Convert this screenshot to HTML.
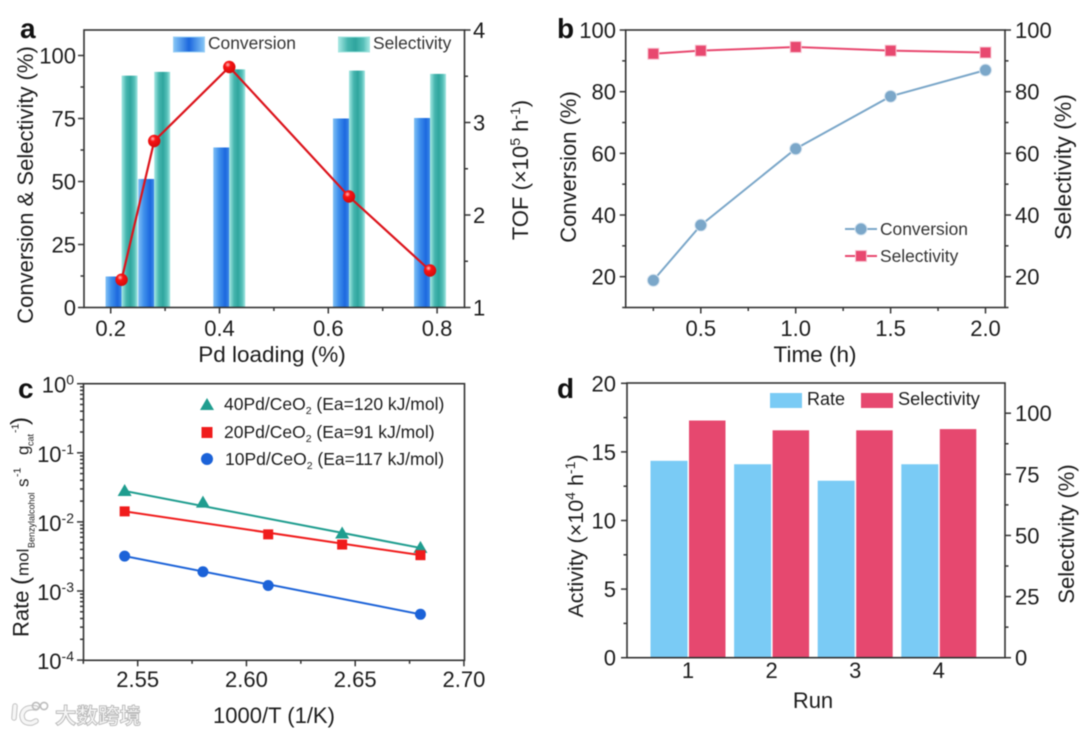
<!DOCTYPE html>
<html lang="en">
<head>
<meta charset="utf-8">
<title>Catalyst performance, four-panel figure</title>
<style>
html,body{margin:0;padding:0;background:#fff;width:1080px;height:735px;overflow:hidden}
svg{display:block;filter:blur(.45px)}
text{font-family:"Liberation Sans","Noto Sans CJK SC",sans-serif;fill:#1c1c1c}
.t{font-size:22px}
.l{font-size:17.4px;fill:#333}
.p{font-size:28px;font-weight:bold;fill:#111}
</style>
</head>
<body>
<svg id="fig" xmlns="http://www.w3.org/2000/svg" width="1080" height="735" viewBox="0 0 1080 735">
<defs>
<linearGradient id="gc" x1="0" x2="1" y1="0" y2="0"><stop offset="0" stop-color="#80c0f5"/><stop offset=".35" stop-color="#3f90ec"/><stop offset=".75" stop-color="#1c68de"/><stop offset="1" stop-color="#3d8be8"/></linearGradient>
<linearGradient id="gs" x1="0" x2="1" y1="0" y2="0"><stop offset="0" stop-color="#a5e8e3"/><stop offset=".3" stop-color="#45b5ae"/><stop offset=".55" stop-color="#2fa59e"/><stop offset=".8" stop-color="#55bfb8"/><stop offset="1" stop-color="#a5e8e3"/></linearGradient>
<linearGradient id="glc" x1="0" x2="1" y1="0" y2="0"><stop offset="0" stop-color="#86c6f6"/><stop offset=".5" stop-color="#1c68de"/><stop offset="1" stop-color="#86c6f6"/></linearGradient>
<radialGradient id="ball" cx=".38" cy=".32" r=".75"><stop offset="0" stop-color="#ffc0c0"/><stop offset=".3" stop-color="#f81414"/><stop offset="1" stop-color="#d00a0a"/></radialGradient>
</defs>

<g id="panel-a">
<text class="p" x="20" y="38">a</text>
<g id="a-marks"></g>
<rect x="84" y="30" width="380.5" height="277.5" fill="none" stroke="#333" stroke-width="1.6"/>
<g id="a-axes"></g>
<text class="t" transform="translate(33,185) rotate(-90)" text-anchor="middle">Conversion &amp; Selectivity (%)</text>
<text class="t" transform="translate(528,170) rotate(-90)" text-anchor="middle">TOF (×10<tspan font-size="14" dy="-8">5</tspan><tspan dy="8"> h</tspan><tspan font-size="14" dy="-8">-1</tspan><tspan dy="8">)</tspan></text>
<text x="272" y="362" font-size="22.5" text-anchor="middle">Pd loading (%)</text>
<rect x="173.5" y="37" width="31" height="15" fill="url(#glc)" stroke="#9bd0f5"/>
<text class="l" x="208" y="49">Conversion</text>
<rect x="338.5" y="37" width="31" height="15" fill="url(#gs)" stroke="#a5e5e0"/>
<text class="l" x="373" y="49">Selectivity</text>
</g>

<g id="panel-b">
<text class="p" x="557" y="38">b</text>
<rect x="625.7" y="30" width="379.3" height="277.5" fill="none" stroke="#333" stroke-width="1.6"/>
<g id="b-axes"></g>
<g id="b-marks"></g>
<text class="t" transform="translate(576,167) rotate(-90)" text-anchor="middle">Conversion (%)</text>
<text x="0" y="0" font-size="23" transform="translate(1071,167) rotate(-90)" text-anchor="middle">Selectivity (%)</text>
<text x="815" y="362" font-size="22.5" text-anchor="middle">Time (h)</text>
<line x1="845" x2="877" y1="229" y2="229" stroke="#7ba7c9" stroke-width="2"/>
<circle cx="861" cy="229" r="6" fill="#7ba7c9" stroke="#cfe0ee"/>
<text class="l" x="880" y="235">Conversion</text>
<line x1="845" x2="877" y1="256" y2="256" stroke="#e8486f" stroke-width="2"/>
<rect x="855.5" y="250.5" width="11" height="11" fill="#e8486f" stroke="#f8c5d2"/>
<text class="l" x="880" y="262">Selectivity</text>
</g>

<g id="panel-c">
<text class="p" x="18" y="398">c</text>
<rect x="83.5" y="383.7" width="381" height="276.6" fill="none" stroke="#333" stroke-width="1.6"/>
<g id="c-axes"></g>
<g id="c-marks"></g>
<text transform="translate(28.5,637) rotate(-90)" font-size="22"><tspan x="0">Rate</tspan><tspan x="52" font-size="24">(</tspan><tspan x="61" font-size="17">mol</tspan><tspan x="89" y="6" font-size="9">Benzylalcohol</tspan><tspan x="150" y="0" font-size="17">s</tspan><tspan x="160" y="-8" font-size="10.5">-1</tspan><tspan x="182" y="0" font-size="17">g</tspan><tspan x="191" y="5" font-size="9">cat</tspan><tspan x="204" y="-10" font-size="10.5">-1</tspan><tspan x="212" y="-1" font-size="24">)</tspan></text>
<text class="t" x="274" y="723" text-anchor="middle">1000/T (1/K)</text>
<polygon points="200,410 214,410 207,398" fill="#1f9d8f"/>
<text x="224" y="410" font-size="17.5" fill="#333">40Pd/CeO<tspan font-size="10.5" dy="4">2</tspan><tspan dy="-4"> (Ea=120 kJ/mol)</tspan></text>
<rect x="201.5" y="427" width="11" height="11" fill="#f01c1c"/>
<text x="224" y="438" font-size="17.5" fill="#333">20Pd/CeO<tspan font-size="10.5" dy="4">2</tspan><tspan dy="-4"> (Ea=91 kJ/mol)</tspan></text>
<circle cx="207" cy="459" r="6" fill="#1b62d8"/>
<text x="225" y="465" font-size="17.5" fill="#333">10Pd/CeO<tspan font-size="10.5" dy="4">2</tspan><tspan dy="-4"> (Ea=117 kJ/mol)</tspan></text>
</g>

<g id="panel-d">
<text class="p" x="557" y="398">d</text>
<g id="d-marks"></g>
<rect x="627" y="383" width="378" height="274.7" fill="none" stroke="#333" stroke-width="1.6"/>
<g id="d-axes"></g>
<text x="0" y="0" font-size="21.5" transform="translate(583,536) rotate(-90)" text-anchor="middle">Activity (×10<tspan font-size="14" dy="-8">4</tspan><tspan dy="8"> h</tspan><tspan font-size="14" dy="-8">-1</tspan><tspan dy="8">)</tspan></text>
<text class="t" transform="translate(1074,534) rotate(-90)" text-anchor="middle">Selectivity (%)</text>
<text class="t" x="813" y="708" text-anchor="middle">Run</text>
<rect x="770" y="393" width="32" height="15" fill="#7acbf5"/>
<text x="807" y="405" font-size="18" fill="#333">Rate</text>
<rect x="861" y="393" width="32" height="15" fill="#e6486f"/>
<text x="898" y="405" font-size="18.2" fill="#333">Selectivity</text>
</g>

<g id="watermark">
<path d="M15 706 L14 718 M36 708 Q24 706 22 715 Q22 724 32 723 L36 721" fill="none" stroke="#c2c2c2" stroke-width="5.5" stroke-linecap="round"/>
<path d="M15 706 L14 718 M36 708 Q24 706 22 715 Q22 724 32 723 L36 721" fill="none" stroke="#f6f6f6" stroke-width="3.5" stroke-linecap="round"/>
<circle cx="36" cy="706" r="3.6" fill="none" stroke="#bdbdbd" stroke-width="1.6"/>
<circle cx="44" cy="706" r="3.6" fill="none" stroke="#bdbdbd" stroke-width="1.6"/>
<text x="55" y="723.5" font-size="21.5" font-weight="bold" style="fill:#f6f6f6;stroke:#b8b8b8;stroke-width:.9px">大数跨境</text>
</g>
</svg>

<script>
/* Panel a */
const aLoading = [0.22, 0.28, 0.418, 0.638, 0.787];
const aConversion = [12.3, 51, 63.5, 75, 75.2];
const aSelectivity = [92, 93.5, 94.5, 94, 92.7];
const aTof = [1.3, 2.8, 3.6, 2.2, 1.4];
const aXTicks = ['0.2', '0.4', '0.6', '0.8'];
const aXMinor = [0.3, 0.5, 0.7];
const aYTicks = [0, 25, 50, 75, 100];
const aYMinor = [12.5, 37.5, 62.5, 87.5];
const aRTicks = [1, 2, 3, 4];
const aRMinor = [1.5, 2.5, 3.5];

/* Panel b */
const bTime = [0.25, 0.5, 1.0, 1.5, 2.0];
const bConversion = [18.8, 36.7, 61.5, 78.5, 87];
const bSelectivity = [92.3, 93.3, 94.5, 93.3, 92.7];
const bXTicks = ['0.5', '1.0', '1.5', '2.0'];
const bXMinor = [0.25, 0.75, 1.25, 1.75];
const bYTicks = [20, 40, 60, 80, 100];
const bYMinor = [10, 30, 50, 70, 90];

/* Panel c */
const cT40 = [2.544, 2.58, 2.644, 2.68];
const cRate40 = [0.028, 0.019, 0.0068, 0.0042];
const cT20 = [2.544, 2.61, 2.644, 2.68];
const cRate20 = [0.0142, 0.0066, 0.0047, 0.0033];
const cT10 = [2.544, 2.58, 2.61, 2.68];
const cRate10 = [0.0032, 0.0019, 0.0012, 0.00046];
const cXTicks = ['2.55', '2.60', '2.65', '2.70'];
const cXMinor = [2.525, 2.575, 2.625, 2.675];
const cYExponents = [0, -1, -2, -3, -4];

/* Panel d */
const dRuns = ['1', '2', '3', '4'];
const dRate = [14.35, 14.1, 12.9, 14.1];
const dSelectivity = [97, 93, 93, 93.5];
const dYTicks = [0, 5, 10, 15, 20];
const dYMinor = [2.5, 7.5, 12.5, 17.5];
const dRTicks = [0, 25, 50, 75, 100];
const dRMinor = [12.5, 37.5, 62.5, 87.5];

const NS = 'http://www.w3.org/2000/svg';
function make(tag, attrs, parent) {
  const n = document.createElementNS(NS, tag);
  for (const k in attrs) n.setAttribute(k, attrs[k]);
  parent.appendChild(n);
  return n;
}
function tick(parent, x1, y1, x2, y2) {
  const el = make('line', {x1: x1, y1: y1, x2: x2, y2: y2, stroke: '#333', 'stroke-width': 1.5}, parent);
  
  
}
function label(parent, x, y, str, anchor) {
  const el = make('text', {x: x, y: y, 'text-anchor': anchor, class: 't'}, parent);
  el.textContent = str;
  
  
  return el;
}
function axisBottom(parent, scale, bottom, major, minor, labelY) {
  major.forEach(function (t) {
    tick(parent, scale(+t), bottom, scale(+t), bottom + 6);
    label(parent, scale(+t), labelY, t, 'middle');
  });
  minor.forEach(function (t) { tick(parent, scale(t), bottom, scale(t), bottom + 3.5); });
}
function axisLeft(parent, scale, left, major, minor, labelX) {
  major.forEach(function (t) {
    tick(parent, left, scale(t), left - 6, scale(t));
    label(parent, labelX, scale(t) + 8, String(t), 'end');
  });
  minor.forEach(function (t) { tick(parent, left, scale(t), left - 3.5, scale(t)); });
}
function axisRight(parent, scale, right, major, minor, labelX) {
  major.forEach(function (t) {
    tick(parent, right, scale(t), right + 6, scale(t));
    label(parent, labelX, scale(t) + 8, String(t), 'start');
  });
  minor.forEach(function (t) { tick(parent, right, scale(t), right + 3.5, scale(t)); });
}
function pointsOf(xs, ys, sx, sy) {
  return xs.map(function (v, i) { return sx(v) + ',' + sy(ys[i]); }).join(' ');
}

/* ---------- panel a ---------- */
const xA = function (v) { return 110.7 + (v - 0.2) * 544; };
const yA = function (v) { return 307.5 - 2.52 * v; };
const rA = function (v) { return 307.5 - 92.5 * (v - 1); };
const aMarks = document.getElementById('a-marks');
const aAxes = document.getElementById('a-axes');
aLoading.forEach(function (v, i) {
  const c = make('rect', {x: xA(v) - 16, y: yA(aConversion[i]), width: 16, height: 307.5 - yA(aConversion[i]), fill: 'url(#gc)'}, aMarks);
  
  
});
aLoading.forEach(function (v, i) {
  const s = make('rect', {x: xA(v), y: yA(aSelectivity[i]), width: 16, height: 307.5 - yA(aSelectivity[i]), fill: 'url(#gs)'}, aMarks);
  
  
});
const aLine = make('polyline', {points: pointsOf(aLoading, aTof, xA, rA), fill: 'none', stroke: '#dc141c', 'stroke-width': 2.2}, aMarks);


aLoading.forEach(function (v, i) {
  const p = make('circle', {cx: xA(v), cy: rA(aTof[i]), r: 6.2, fill: 'url(#ball)'}, aMarks);
  
  
});
axisBottom(aAxes, xA, 307.5, aXTicks, aXMinor, 336);
axisLeft(aAxes, yA, 84, aYTicks, aYMinor, 76);
axisRight(aAxes, rA, 464.5, aRTicks, aRMinor, 473);

/* ---------- panel b ---------- */
const xB = function (v) { return 605.9 + v * 189.8; };
const yB = function (v) { return 307.5 - (v - 10) * 3.083; };
const bMarks = document.getElementById('b-marks');
const bAxes = document.getElementById('b-axes');
const bLineC = make('polyline', {points: pointsOf(bTime, bConversion, xB, yB), fill: 'none', stroke: '#7ba7c9', 'stroke-width': 2}, bMarks);


const bLineS = make('polyline', {points: pointsOf(bTime, bSelectivity, xB, yB), fill: 'none', stroke: '#e8486f', 'stroke-width': 2}, bMarks);


bTime.forEach(function (v, i) {
  const p = make('circle', {cx: xB(v), cy: yB(bConversion[i]), r: 6, fill: '#7ba7c9', stroke: '#d5e3ef', 'stroke-width': 1}, bMarks);
  
  
  const q = make('rect', {x: xB(v) - 5.5, y: yB(bSelectivity[i]) - 5.5, width: 11, height: 11, fill: '#e8486f', stroke: '#f8c5d2', 'stroke-width': 1}, bMarks);
  
  
});
axisBottom(bAxes, xB, 307.5, bXTicks, bXMinor, 336);
axisLeft(bAxes, yB, 625.7, bYTicks, bYMinor, 616);
axisRight(bAxes, yB, 1005, bYTicks, bYMinor, 1015);

/* ---------- panel c ---------- */
const xC = function (v) { return 137.7 + (v - 2.55) * 2175; };
const yC = function (v) { return 383.7 - Math.log10(v) * 69.1; };
const cMarks = document.getElementById('c-marks');
const cAxes = document.getElementById('c-axes');
axisBottom(cAxes, xC, 660.3, cXTicks, cXMinor, 687);
cYExponents.forEach(function (e) {
  const y = yC(Math.pow(10, e));
  tick(cAxes, 83.5, y, 77, y);
  const t = label(cAxes, 74, y + 9, '10', 'end');
  const sup = make('tspan', {'font-size': 14, dy: -8}, t);
  sup.textContent = String(e);
  if (e > -4) {
    for (let m = 2; m <= 9; m++) {
      const my = yC(m * Math.pow(10, e - 1));
      tick(cAxes, 83.5, my, 80, my);
    }
  }
});
function fitLine(ts, rates, color, name) {
  const last = ts.length - 1;
  const el = make('line', {x1: xC(ts[0]), y1: yC(rates[0]), x2: xC(ts[last]), y2: yC(rates[last]), stroke: color, 'stroke-width': 2}, cMarks);
  
  
}
fitLine(cT40, cRate40, '#1f9d8f', 'fit-line-40pd');
fitLine(cT20, cRate20, '#f01c1c', 'fit-line-20pd');
fitLine(cT10, cRate10, '#1b62d8', 'fit-line-10pd');
cT40.forEach(function (v, i) {
  const x = xC(v), y = yC(cRate40[i]);
  const el = make('polygon', {points: (x - 7) + ',' + (y + 5) + ' ' + (x + 7) + ',' + (y + 5) + ' ' + x + ',' + (y - 7), fill: '#1f9d8f'}, cMarks);
  
  
});
cT20.forEach(function (v, i) {
  const el = make('rect', {x: xC(v) - 5, y: yC(cRate20[i]) - 5, width: 10, height: 10, fill: '#f01c1c'}, cMarks);
  
  
});
cT10.forEach(function (v, i) {
  const el = make('circle', {cx: xC(v), cy: yC(cRate10[i]), r: 5.5, fill: '#1b62d8'}, cMarks);
  
  
});

/* ---------- panel d ---------- */
const xD = function (i) { return 688 + i * 83.6; };
const yD = function (v) { return 657.7 - v * 13.72; };
const rD = function (v) { return 657.7 - v * 2.445; };
const dMarks = document.getElementById('d-marks');
const dAxes = document.getElementById('d-axes');
dRuns.forEach(function (run, i) {
  const a = make('rect', {x: xD(i) - 37.5, y: yD(dRate[i]), width: 37, height: 657.7 - yD(dRate[i]), fill: '#7acbf5'}, dMarks);
  
  
  const b = make('rect', {x: xD(i) + 1, y: rD(dSelectivity[i]), width: 36.5, height: 657.7 - rD(dSelectivity[i]), fill: '#e6486f'}, dMarks);
  
  
  label(dAxes, xD(i), 678, run, 'middle');
});
axisLeft(dAxes, yD, 627, dYTicks, dYMinor, 616);
axisRight(dAxes, rD, 1005, dRTicks, dRMinor, 1015);
</script>
</body>
</html>
